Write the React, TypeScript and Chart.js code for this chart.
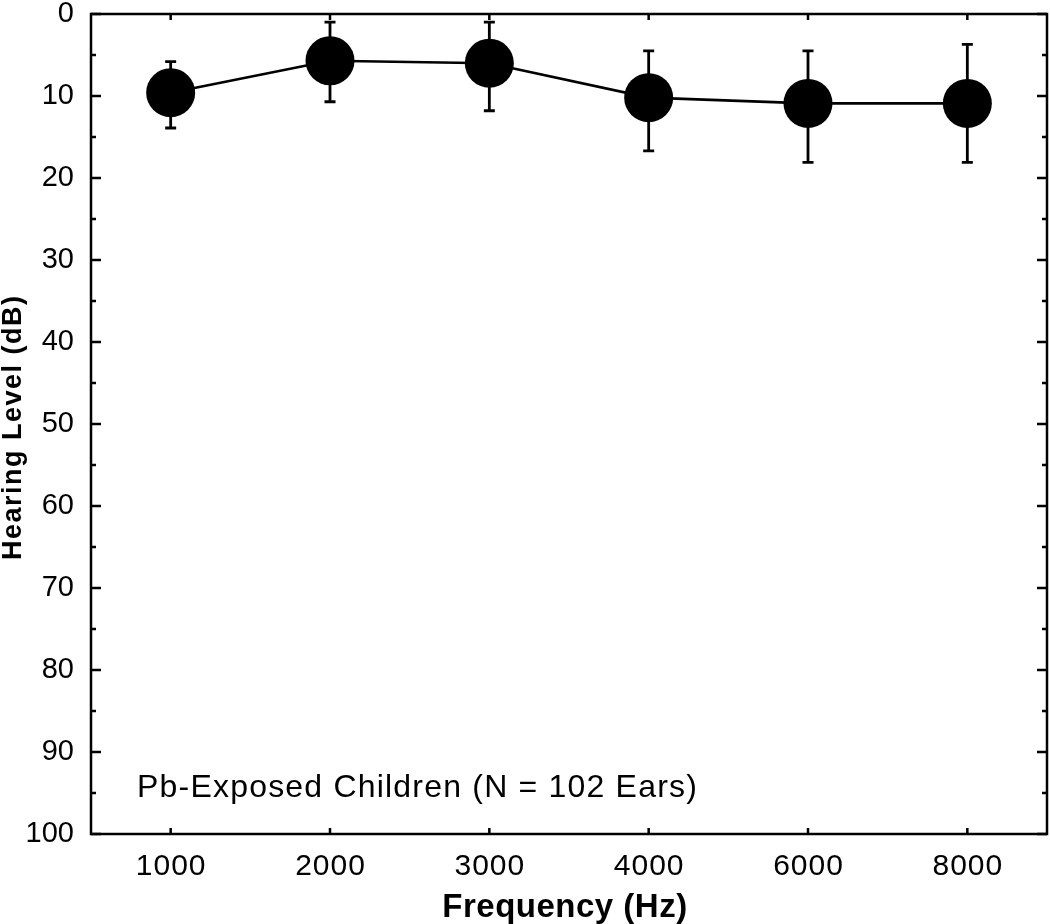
import React, { useEffect, useRef } from "react";
import { Chart, registerables } from "chart.js";

Chart.register(...registerables);

const frequencies = ["1000", "2000", "3000", "4000", "6000", "8000"];
const meanHL = [9.6, 5.7, 6.0, 10.2, 10.9, 10.9];
const errTop = [5.8, 1.0, 1.0, 4.5, 4.5, 3.7];
const errBottom = [13.9, 10.7, 11.8, 16.7, 18.1, 18.1];
const yMajorTicks = [0, 10, 20, 30, 40, 50, 60, 70, 80, 90, 100];
const yMinorTicks = [5, 15, 25, 35, 45, 55, 65, 75, 85, 95];

const xTitle = "Frequency (Hz)";
const yTitle = "Hearing Level (dB)";
const note = "Pb-Exposed Children (N = 102 Ears)";

const FONT = '"Liberation Sans", Arial, Helvetica, sans-serif';

const decorPlugin = {
  id: "decor",
  beforeDatasetsDraw(chart: any) {
    const ctx = chart.ctx;
    const x = chart.scales.x;
    const y = chart.scales.y;
    ctx.save();
    ctx.strokeStyle = "#000";
    ctx.lineWidth = 2.8;
    for (let i = 0; i < frequencies.length; i++) {
      const px = x.getPixelForValue(i);
      const y1 = y.getPixelForValue(errTop[i]);
      const y2 = y.getPixelForValue(errBottom[i]);
      ctx.beginPath();
      ctx.moveTo(px, y1);
      ctx.lineTo(px, y2);
      ctx.moveTo(px - 5.5, y1);
      ctx.lineTo(px + 5.5, y1);
      ctx.moveTo(px - 5.5, y2);
      ctx.lineTo(px + 5.5, y2);
      ctx.stroke();
    }
    ctx.restore();
  },
  afterDraw(chart: any) {
    const ctx = chart.ctx;
    const a = chart.chartArea;
    const x = chart.scales.x;
    const y = chart.scales.y;
    ctx.save();
    ctx.strokeStyle = "#000";
    ctx.fillStyle = "#000";
    ctx.lineWidth = 2.5;
    ctx.strokeRect(a.left, a.top, a.right - a.left, a.bottom - a.top);
    ctx.beginPath();
    for (let i = 0; i < frequencies.length; i++) {
      const px = x.getPixelForValue(i);
      ctx.moveTo(px, a.bottom);
      ctx.lineTo(px, a.bottom - 6);
      ctx.moveTo(px, a.top);
      ctx.lineTo(px, a.top + 6);
    }
    for (const v of yMajorTicks) {
      const py = y.getPixelForValue(v);
      ctx.moveTo(a.left, py);
      ctx.lineTo(a.left + 10, py);
      ctx.moveTo(a.right, py);
      ctx.lineTo(a.right - 10, py);
    }
    for (const v of yMinorTicks) {
      const py = y.getPixelForValue(v);
      ctx.moveTo(a.left, py);
      ctx.lineTo(a.left + 5, py);
      ctx.moveTo(a.right, py);
      ctx.lineTo(a.right - 5, py);
    }
    ctx.stroke();

    // x tick labels
    ctx.font = `30px ${FONT}`;
    ctx.textAlign = "center";
    ctx.textBaseline = "alphabetic";
    (ctx as any).letterSpacing = "1px";
    for (let i = 0; i < frequencies.length; i++) {
      const px = x.getPixelForValue(i);
      ctx.fillText(frequencies[i], px + 0.5, a.bottom + 41);
    }

    // annotation
    ctx.font = `32px ${FONT}`;
    ctx.textAlign = "left";
    (ctx as any).letterSpacing = "1.2px";
    ctx.fillText(note, a.left + 46, a.bottom - 37);

    // x title
    ctx.font = `bold 33px ${FONT}`;
    ctx.textAlign = "center";
    (ctx as any).letterSpacing = "0.5px";
    ctx.fillText(xTitle, (a.left + a.right) / 2 - 4, a.bottom + 83);

    // y title
    ctx.font = `bold 27px ${FONT}`;
    (ctx as any).letterSpacing = "1.5px";
    ctx.translate(21, (a.top + a.bottom) / 2 + 4);
    ctx.rotate(-Math.PI / 2);
    ctx.fillText(yTitle, 0.75, 0);
    ctx.restore();
    (ctx as any).letterSpacing = "0px";
  },
};

const zeroPad = (s: any) => {
  s.paddingTop = 0;
  s.paddingBottom = 0;
  s.paddingLeft = 0;
  s.paddingRight = 0;
};

export default function App() {
  const ref = useRef<HTMLCanvasElement | null>(null);
  useEffect(() => {
    if (!ref.current) return;
    const chart = new Chart(ref.current, {
      type: "line",
      data: {
        labels: frequencies,
        datasets: [
          {
            data: meanHL,
            borderColor: "#000",
            backgroundColor: "#000",
            borderWidth: 2.6,
            pointRadius: 24.5,
            pointBackgroundColor: "#000",
            pointBorderWidth: 0,
            tension: 0,
            clip: false,
          },
        ],
      },
      options: {
        responsive: false,
        animation: false,
        layout: { autoPadding: false, padding: { top: 14, right: 3, left: 0, bottom: 0 } },
        plugins: { legend: { display: false }, tooltip: { enabled: false } },
        scales: {
          x: {
            type: "category",
            offset: true,
            grid: { display: false, drawTicks: false },
            border: { display: false },
            ticks: { display: false },
            afterFit: (s: any) => {
              s.height = 90;
              zeroPad(s);
            },
          },
          y: {
            type: "linear",
            reverse: true,
            min: 0,
            max: 100,
            grid: { display: false, drawTicks: false },
            border: { display: false },
            ticks: {
              stepSize: 10,
              color: "#000",
              padding: 17,
              font: { family: FONT, size: 29 },
            },
            afterFit: (s: any) => {
              s.width = 91;
              zeroPad(s);
            },
          },
        },
      },
      plugins: [decorPlugin],
    });
    return () => chart.destroy();
  }, []);
  return (
    <div style={{ position: "absolute", left: 0, top: 0, width: 1050, height: 924, background: "#fff" }}>
      <canvas ref={ref} width={1050} height={924} style={{ display: "block" }} />
    </div>
  );
}
